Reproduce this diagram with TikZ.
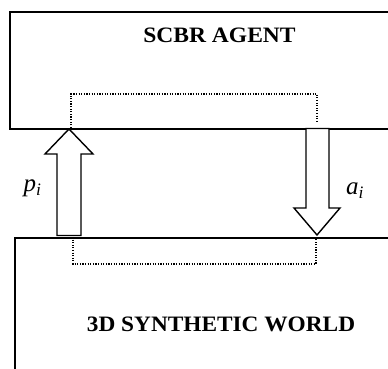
\documentclass[tikz,border=0pt]{standalone}
\usepackage{fontspec}
\usepackage{graphicx}
\setmainfont{Liberation Serif}
\usetikzlibrary{positioning}

\begin{document}
\begin{tikzpicture}[
  x=1pt, y=1pt,
  layer/.style={draw,line width=1.9pt,anchor=north west,inner sep=0pt},
  title/.style={font=\fontsize{22}{26}\selectfont\bfseries,anchor=base},
  bigarrow/.style={draw,line width=1.4pt,fill=white,line join=miter},
  trace/.style={line width=1.1pt,dash pattern=on 1.1pt off 1.5pt},
  sym/.style={font=\fontsize{25}{28}\selectfont\itshape,anchor=base}
]
  \useasboundingbox (0,0) rectangle (388,369);
  \node[layer,minimum width=400pt,minimum height=117pt] (agent) at (9,358) {};
  \node[layer,minimum width=400pt,minimum height=150pt] (world) at (14,132) {};
  \node[title] (agentname) at (219.5,326.3) {\scalebox{1.07}[1]{SCBR AGENT}};
  \node[title] (worldname) at (221,37.3) {\scalebox{1.06}[1]{3D SYNTHETIC WORLD}};

  % perception / action traces
  \draw[trace] (71,241) -- (71,275) -- (317,275) -- (317,246);
  \draw[trace] (73,132) -- (73,105) -- (316,105) -- (316,132);

  % block arrows
  \draw[bigarrow] (69,240) -- (93,215) -- (81,215) -- (81,133.5)
    -- (57,133.5) -- (57,215) -- (45,215) -- cycle;
  \draw[bigarrow] (306,240.5) -- (329,240.5) -- (329,161) -- (340,161)
    -- (317,134) -- (294,161) -- (306,161) -- cycle;

  \node[sym] (percept) at (32.5,177) {p\textsubscript{i}};
  \node[sym] (action) at (355,174) {a\textsubscript{i}};
\end{tikzpicture}
\end{document}
